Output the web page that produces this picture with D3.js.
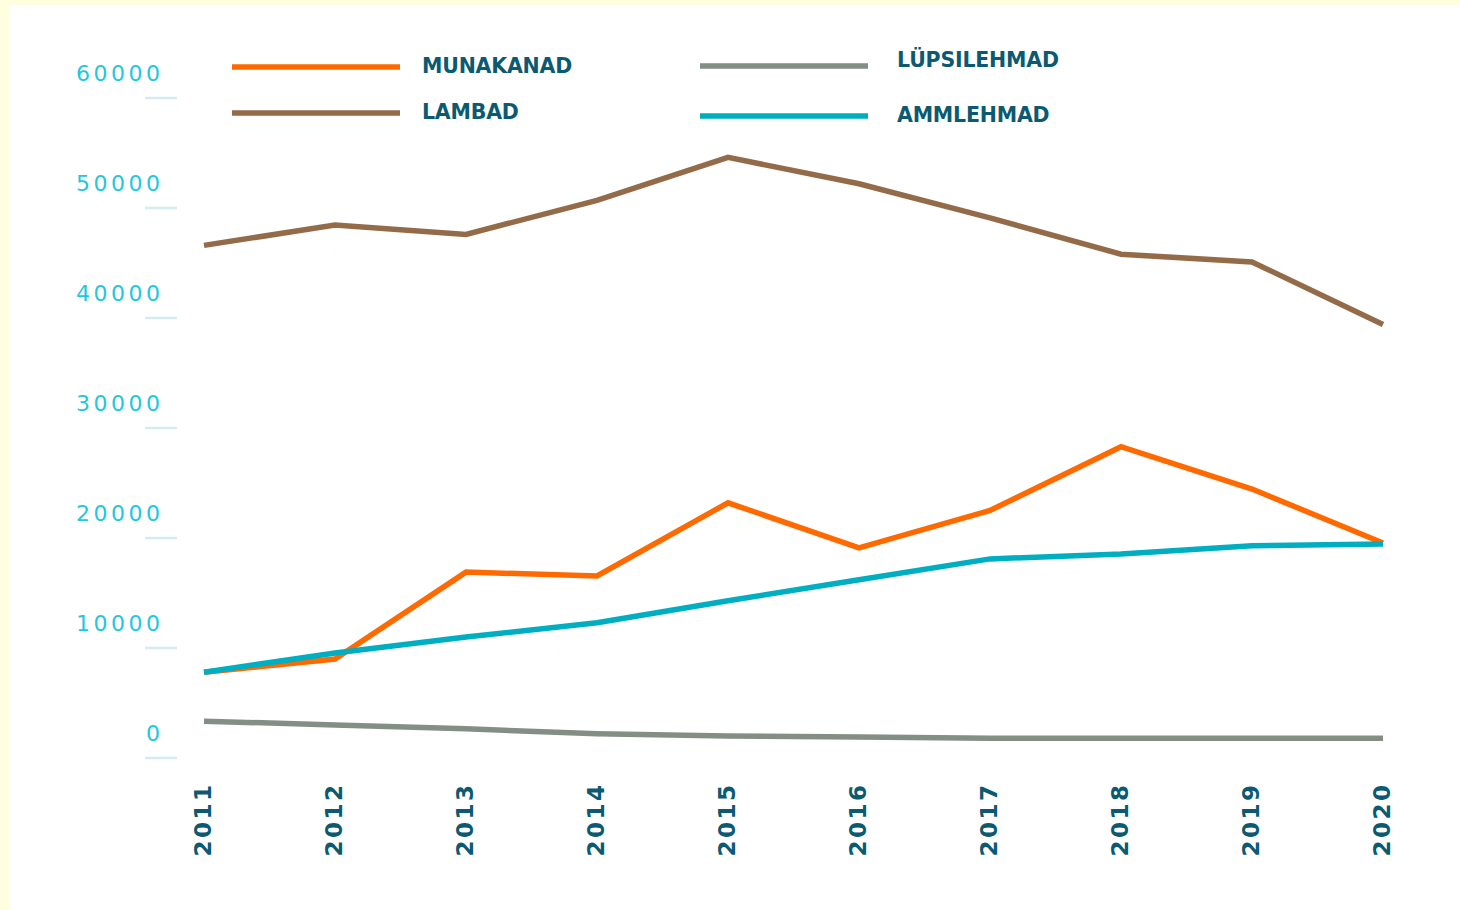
<!DOCTYPE html>
<html>
<head>
<meta charset="utf-8">
<script src="https://cdn.jsdelivr.net/npm/d3@7"></script>
<style>
  html, body { margin: 0; padding: 0; background: #FFFFE0; }
  svg { display: block; }
</style>
</head>
<body>
<svg id="chart" width="1460" height="910"></svg>
<script>
const years = [2011, 2012, 2013, 2014, 2015, 2016, 2017, 2018, 2019, 2020];
const munakanad   = [7800, 9000, 16900, 16550, 23200, 19100, 22500, 28300, 24450, 19550];
const lambad      = [46600, 48450, 47600, 50700, 54600, 52200, 49100, 45800, 45100, 39400];
const lypsilehmad = [3350, 3000, 2650, 2200, 2000, 1900, 1800, 1800, 1800, 1800];
const ammlehmad   = [7800, 9550, 11000, 12300, 14300, 16200, 18100, 18550, 19300, 19450];
const yTicks = [0, 10000, 20000, 30000, 40000, 50000, 60000];
const seriesNames = ["MUNAKANAD", "LAMBAD", "LÜPSILEHMAD", "AMMLEHMAD"];
const seriesColors = ["#FF6A00", "#946B49", "#838F84", "#00AEC2"];

const svg = d3.select("#chart");
// white card
svg.append("rect").attr("x", 9).attr("y", 5).attr("width", 1451).attr("height", 905).attr("fill", "#ffffff");

const x = d3.scalePoint().domain(years).range([204, 1383]);
const y = d3.scaleLinear().domain([0, 60000]).range([758, 98]);

// y ticks: short light marks + labels above
const yg = svg.append("g");
yTicks.forEach(t => {
  yg.append("line").attr("x1", 145).attr("x2", 177)
    .attr("y1", y(t)).attr("y2", y(t))
    .attr("stroke", "#d3ecf1").attr("stroke-width", 2.5);
  yg.append("text").attr("x", 163.5).attr("y", y(t) - 23)
    .attr("text-anchor", "end").attr("dominant-baseline", "middle")
    .attr("font-family", "DejaVu Sans, sans-serif").attr("font-size", 22)
    .attr("letter-spacing", 3.5)
    .attr("fill", "#22C7DE").text(t);
});

// x labels rotated
const xg = svg.append("g");
years.forEach(yr => {
  xg.append("text")
    .attr("transform", `translate(${x(yr)},782.5) rotate(-90)`)
    .attr("text-anchor", "end").attr("dominant-baseline", "middle")
    .attr("font-family", "DejaVu Sans, sans-serif").attr("font-size", 23).attr("font-weight", "bold")
    .attr("letter-spacing", 2.5)
    .attr("fill", "#0B5A72").text(yr);
});

const allSeries = [munakanad, lambad, lypsilehmad, ammlehmad];
const line = d3.line().x((d, i) => x(years[i])).y(d => y(d));
// draw order: lüpsilehmad, lambad, munakanad, ammlehmad on top
[2, 1, 0, 3].forEach(k => {
  svg.append("path").datum(allSeries[k])
    .attr("d", line).attr("fill", "none")
    .attr("stroke", seriesColors[k]).attr("stroke-width", 5.5)
    .attr("stroke-linejoin", "miter");
});

// legend
const legendPos = [
  {lx: 232, ly: 67, tx: 422, ty: 67},
  {lx: 232, ly: 113, tx: 422, ty: 113},
  {lx: 700, ly: 66, tx: 897, ty: 61},
  {lx: 700, ly: 116, tx: 897, ty: 116}
];
const lg = svg.append("g");
seriesNames.forEach((name, k) => {
  const p = legendPos[k];
  lg.append("line").attr("x1", p.lx).attr("x2", p.lx + 168)
    .attr("y1", p.ly).attr("y2", p.ly)
    .attr("stroke", seriesColors[k]).attr("stroke-width", 5.5);
  lg.append("text").attr("x", p.tx).attr("y", p.ty)
    .attr("dominant-baseline", "middle")
    .attr("font-family", "DejaVu Sans, sans-serif").attr("font-size", 20.5).attr("font-weight", "bold")
    .attr("letter-spacing", -0.2)
    .attr("fill", "#0B5A72").text(name);
});
</script>
</body>
</html>
